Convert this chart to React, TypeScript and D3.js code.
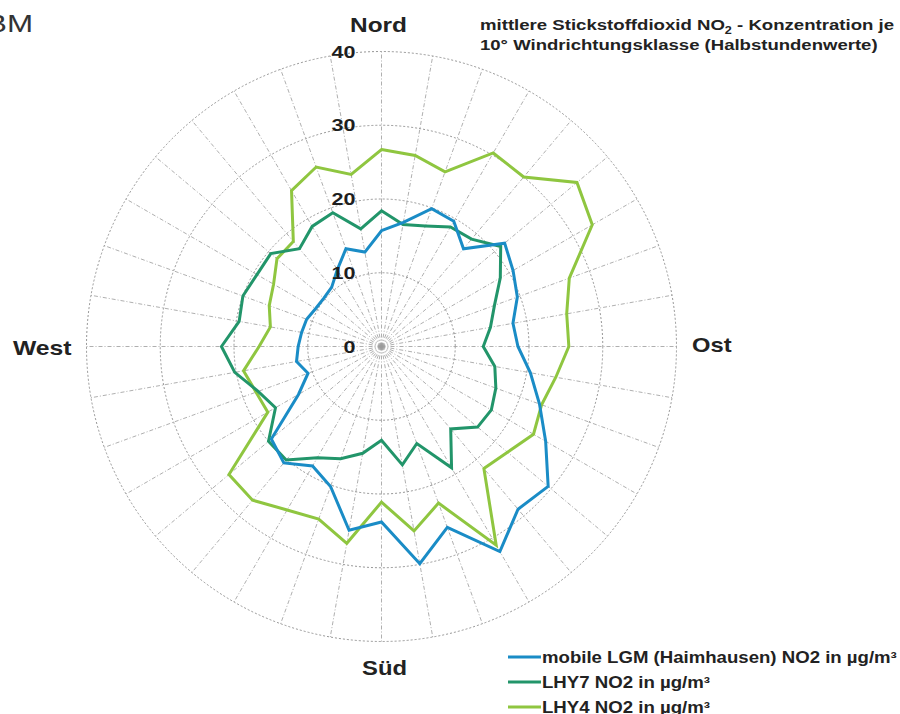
import React, { useLayoutEffect, useRef, useState } from "react";
import * as d3 from "d3";

const directions = d3.range(0, 360, 10);
const mobileLGM = [15.7, 17.1, 19.9, 19.6, 17.3, 21.8, 20.6, 19.6, 18.1, 18.5, 20.5, 22.8, 25.7, 29.5, 28.8, 32.1, 26.1, 29.9, 23.8, 25.3, 20.2, 18.7, 20.6, 19.5, 13.0, 10.6, 11.7, 11.3, 11.0, 10.8, 10.3, 10.2, 10.5, 12.0, 14.1, 13.0];
const lhy7 = [18.4, 16.8, 17.4, 18.7, 19.0, 21.1, 18.6, 16.3, 15.0, 13.8, 15.6, 16.5, 17.2, 17.0, 14.6, 19.0, 14.0, 16.3, 12.7, 14.7, 16.2, 17.4, 20.1, 20.0, 16.6, 17.8, 20.2, 21.7, 19.6, 20.0, 19.5, 19.6, 17.3, 18.8, 19.3, 16.2];
const lhy4 = [26.7, 26.3, 25.2, 30.3, 30.0, 34.6, 33.0, 27.1, 25.5, 25.4, 24.0, 23.1, 23.8, 22.3, 21.6, 31.1, 22.6, 25.4, 21.1, 27.1, 24.9, 25.6, 27.2, 27.0, 17.8, 18.1, 19.0, 16.6, 15.3, 16.2, 16.9, 18.5, 18.6, 24.4, 25.9, 23.7];
const ringTicks = [0, 10, 20, 30, 40];
const seriesNames = ["mobile LGM (Haimhausen) NO2 in µg/m³", "LHY7 NO2 in µg/m³", "LHY4 NO2 in µg/m³"];
const seriesColors = ["#1a8cc6", "#22956a", "#8fc640"];
const compass = ["Nord", "Ost", "Süd", "West"];

function FitText(props: any) {
  const { x, y, width, anchor = "start", children, ...rest } = props;
  const ref = useRef<SVGTextElement>(null);
  const [s, setS] = useState(1);
  useLayoutEffect(() => {
    if (ref.current) {
      const w = ref.current.getBBox().width;
      if (w > 0) setS(width / w);
    }
  }, [width]);
  return (
    <text ref={ref} transform={`translate(${x},${y}) scale(${s},1)`} textAnchor={anchor} {...rest}>
      {children}
    </text>
  );
}

export default function App() {
  const W = 900, H = 714;
  const cx = 381.5, cy = 346.5;
  const r = d3.scaleLinear().domain([0, 40]).range([0, 295]);
  const toRad = (deg: number) => (deg * Math.PI) / 180;
  const series = [mobileLGM, lhy7, lhy4];
  const line = d3
    .lineRadial<number>()
    .angle((_, i) => toRad(directions[i]))
    .radius((d) => r(d))
    .curve(d3.curveLinearClosed);
  const font = "'Liberation Sans', Arial, sans-serif";
  const legendWidths = [355, 168, 168];

  return (
    <svg width={W} height={H} style={{ position: "absolute", left: 0, top: 0, background: "#fff" }} fontFamily={font}>
      <rect width={W} height={H} fill="#fff" />
      <g transform={`translate(${cx},${cy})`}>
        {ringTicks.filter((t) => t > 0).map((t) => (
          <circle key={t} r={r(t)} fill="none" stroke="#8a8a8a" strokeWidth={0.9} strokeDasharray="2,2" />
        ))}
        {directions.map((d) => (
          <line key={d} x1={0} y1={0} x2={r(40) * Math.sin(toRad(d))} y2={-r(40) * Math.cos(toRad(d))}
            stroke="#9a9a9a" strokeWidth={0.8} strokeDasharray="4,2,1,2" />
        ))}
        {[series[2], series[1], series[0]].map((s, k) => (
          <path key={k} d={line(s) || ""} fill="none" stroke={seriesColors[2 - k]} strokeWidth={3} strokeLinejoin="miter" />
        ))}
        {ringTicks.map((t) => (
          <FitText key={t} x={-26} y={-r(t) + 6} width={String(t).length * 12} anchor="end" fontSize={17} fontWeight="bold" fill="#1e1e1e">{t}</FitText>
        ))}
      </g>
      <FitText x={350} y={32} width={57} fontSize={21} fontWeight="bold" fill="#222">{compass[0]}</FitText>
      <FitText x={692} y={352} width={40} fontSize={20} fontWeight="bold" fill="#222">{compass[1]}</FitText>
      <FitText x={362} y={675} width={45} fontSize={20} fontWeight="bold" fill="#222">{compass[2]}</FitText>
      <FitText x={13} y={355} width={59} fontSize={20} fontWeight="bold" fill="#222">{compass[3]}</FitText>
      <FitText x={-14} y={32} width={47} fontSize={24} fill="#333">BM</FitText>
      <FitText x={480} y={30} width={415} fontSize={15.5} fontWeight="bold" fill="#222">
        mittlere Stickstoffdioxid NO<tspan fontSize={10.5} dy={4}>2</tspan><tspan dy={-4}> - Konzentration je</tspan>
      </FitText>
      <FitText x={480} y={50} width={398} fontSize={15.5} fontWeight="bold" fill="#222">10° Windrichtungsklasse (Halbstundenwerte)</FitText>
      {seriesNames.map((n, i) => (
        <g key={n} transform={`translate(508,${657 + i * 25})`}>
          <line x1={0} x2={33} y1={0} y2={0} stroke={seriesColors[i]} strokeWidth={3} />
          <FitText x={34} y={6} width={legendWidths[i]} fontSize={16} fontWeight="bold" fill="#222">{n}</FitText>
        </g>
      ))}
    </svg>
  );
}
